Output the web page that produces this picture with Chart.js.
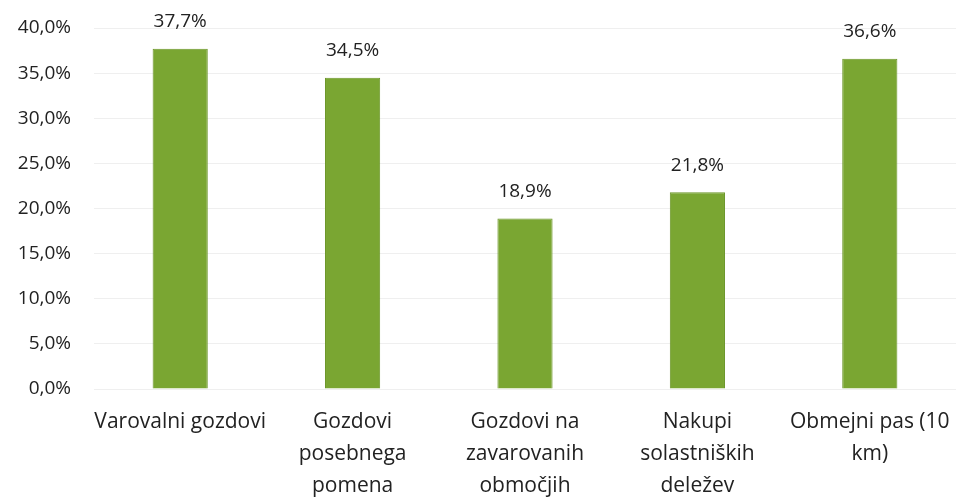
<!DOCTYPE html>
<html lang="sl">
<head>
<meta charset="UTF-8">
<title>Deleži</title>
<script src="https://cdn.jsdelivr.net/npm/chart.js@4.4.1/dist/chart.umd.min.js"></script>
<style>
  body {
    margin: 0;
    background-color: #fff;
  }
  .chart-box {
    width: 956px;
    height: 504px;
  }
</style>
</head>
<body>

<div class="chart-box">
  <canvas id="chartDelezi"></canvas>
</div>

<script>
  // podatki
  const kategorije = [
    ['Varovalni gozdovi'],
    ['Gozdovi', 'posebnega', 'pomena'],
    ['Gozdovi na', 'zavarovanih', 'območjih'],
    ['Nakupi', 'solastniških', 'deležev'],
    ['Obmejni pas (10', 'km)']
  ];
  const vrednosti = [37.7, 34.5, 18.9, 21.8, 36.6];
  const yTicks = [0, 5, 10, 15, 20, 25, 30, 35, 40];

  const fmt = v => v.toFixed(1).replace('.', ',') + '%';

  // napisi nad stolpci
  const napisi = {
    id: 'napisi',
    afterDatasetsDraw(chart) {
      const ctx = chart.ctx;
      const meta = chart.getDatasetMeta(0);
      ctx.save();
      ctx.font = '19px "Open Sans"';
      ctx.fillStyle = '#222';
      ctx.textAlign = 'center';
      ctx.textBaseline = 'middle';
      meta.data.forEach((bar, i) => {
        ctx.fillText(fmt(vrednosti[i]), bar.x, bar.y - 27);
      });
      ctx.restore();
    }
  };

  new Chart('chartDelezi', {
    type: 'bar',
    data: {
      labels: kategorije,
      datasets: [{
        data: vrednosti,
        backgroundColor: '#7aa632',
        borderColor: '#6b9628',
        borderWidth: 1,
        barPercentage: 0.32,
        categoryPercentage: 1
      }]
    },
    options: {
      responsive: true,
      maintainAspectRatio: false,
      animation: false,
      layout: { padding: { top: 28, left: 0, right: -10, bottom: 0 } },
      plugins: {
        legend: { display: false },
        tooltip: { enabled: false }
      },
      scales: {
        x: {
          grid: { display: false, drawTicks: false },
          border: { display: false },
          ticks: {
            color: '#222',
            font: { family: 'Open Sans', size: 21, lineHeight: 1.524 },
            padding: 17,
            maxRotation: 0,
            autoSkip: false
          },
          afterFit: axis => {
            axis.paddingLeft = 0;
            axis.paddingRight = 0;
            axis.height = 115;
          }
        },
        y: {
          min: 0,
          max: 40,
          afterBuildTicks: axis => { axis.ticks = yTicks.map(v => ({ value: v })); },
          grid: { color: '#efefef', drawTicks: false },
          border: { display: false },
          ticks: {
            color: '#222',
            font: { family: 'Open Sans', size: 19 },
            padding: 23,
            callback: v => fmt(v)
          },
          afterFit: axis => {
            axis.paddingTop = 0;
            axis.paddingBottom = 0;
            axis.width = 94;
          }
        }
      }
    },
    plugins: [napisi]
  });
</script>

</body>
</html>
